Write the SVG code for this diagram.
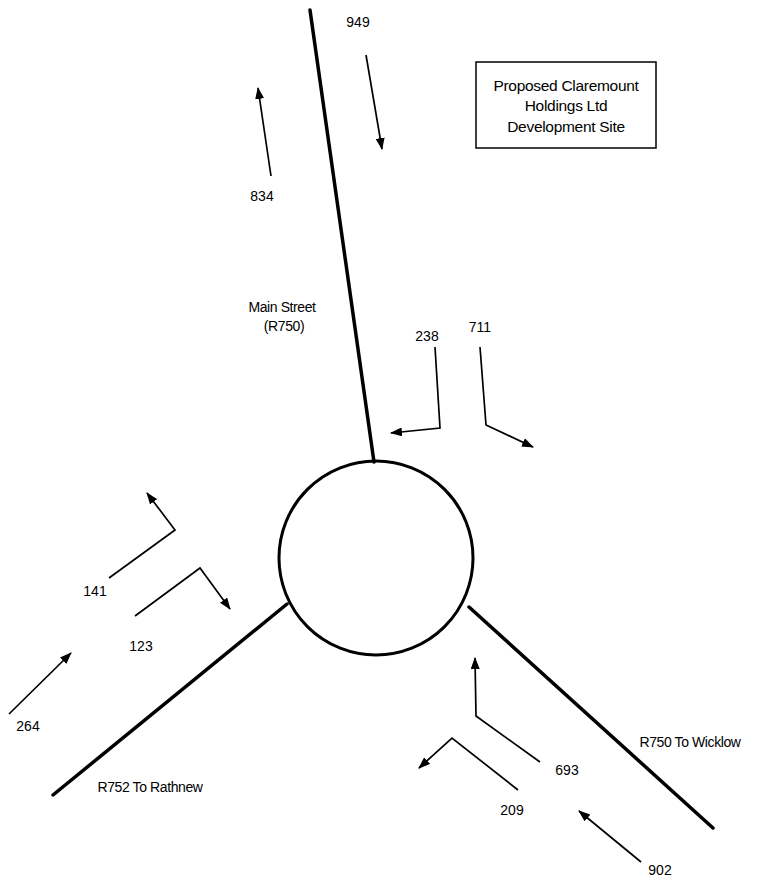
<svg xmlns="http://www.w3.org/2000/svg" width="763" height="881" viewBox="0 0 763 881">
<defs>
<marker id="ah" markerWidth="12" markerHeight="9" refX="11" refY="4.5" orient="auto" markerUnits="userSpaceOnUse">
<path d="M0,0 L12,4.5 L0,9 Z" fill="#000"/>
</marker>
<style>
.road{stroke:#000;stroke-width:3.5;fill:none;stroke-linecap:round}
.arr{stroke:#000;stroke-width:1.7;fill:none;marker-end:url(#ah)}
.t{font-family:"Liberation Sans",Arial,sans-serif;font-size:14px;fill:#000;text-anchor:middle;letter-spacing:-0.4px}
.b{font-family:"Liberation Sans",Arial,sans-serif;font-size:15.5px;fill:#000;text-anchor:middle;letter-spacing:-0.3px}
.n{font-family:"Liberation Sans",Arial,sans-serif;font-size:14px;fill:#000;text-anchor:middle}
</style>
</defs>
<rect width="763" height="881" fill="#fff"/>
<g id="roads">
<line class="road" x1="310" y1="10" x2="374" y2="462"/>
<line class="road" x1="287" y1="604" x2="53" y2="795"/>
<line class="road" x1="469" y1="607" x2="713" y2="828"/>
</g>
<g id="roundabout">
<circle cx="376" cy="558" r="97" fill="none" stroke="#000" stroke-width="3"/>
</g>
<g id="site-box">
<rect x="476" y="62" width="180" height="86" fill="#fff" stroke="#000" stroke-width="1.5"/>
<text class="b" x="566" y="91">Proposed Claremount</text>
<text class="b" x="566" y="111">Holdings Ltd</text>
<text class="b" x="566" y="132">Development Site</text>
</g>
<g id="labels">
<text class="t" x="282" y="312">Main Street</text>
<text class="t" x="284" y="331">(R750)</text>
<text class="t" x="150" y="792">R752 To Rathnew</text>
<text class="t" x="690" y="747">R750 To Wicklow</text>
</g>
<g id="connectors">
<polyline class="arr" points="271,176 258,88"/>
<polyline class="arr" points="366,55 382,149"/>
<polyline class="arr" points="435,347 440,428 391,433"/>
<polyline class="arr" points="480,347 486,425 533,447"/>
<polyline class="arr" points="109,578 175,530 147,493"/>
<polyline class="arr" points="135,616 200,568 230,609"/>
<polyline class="arr" points="9,714 71,653"/>
<polyline class="arr" points="540,762 476,716 475,658"/>
<polyline class="arr" points="518,790 452,738 419,768"/>
<polyline class="arr" points="641,862 579,811"/>
</g>
<g id="counts">
<text class="n" x="358" y="27">949</text>
<text class="n" x="262" y="201">834</text>
<text class="n" x="427" y="341">238</text>
<text class="n" x="480" y="332">711</text>
<text class="n" x="95" y="596">141</text>
<text class="n" x="141" y="651">123</text>
<text class="n" x="28" y="731">264</text>
<text class="n" x="567" y="775">693</text>
<text class="n" x="512" y="815">209</text>
<text class="n" x="660" y="875">902</text>
</g>
</svg>
